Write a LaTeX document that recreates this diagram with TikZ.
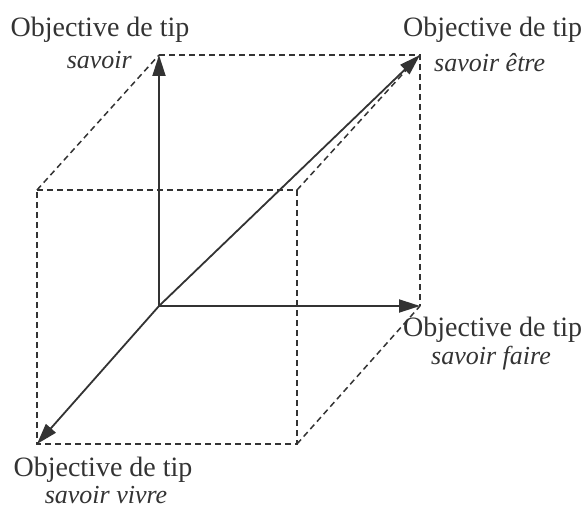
\documentclass[tikz,border=0pt]{standalone}
\usepackage{fontspec}
\setmainfont{Liberation Serif}
\usetikzlibrary{arrows.meta}
\definecolor{ink}{HTML}{333333}
\tikzset{
  axis/.style={draw=ink, line width=1.8pt, -{Triangle[length=21pt,width=13pt]}},
  edge/.style={draw=ink, line width=1.5pt, dash pattern=on 6pt off 4pt},
  lab/.style={text=ink, inner sep=0pt, font=\fontsize{28}{32}\selectfont},
  ilab/.style={text=ink, inner sep=0pt, font=\fontsize{26}{30}\selectfont\itshape}
}
\begin{document}
\begin{tikzpicture}[x=1pt,y=-1pt]
\useasboundingbox (0,0) rectangle (585,510);
% back face
\coordinate (O) at (159,306);
\coordinate (U) at (159,55);
\coordinate (R) at (420,306);
\coordinate (D) at (420,55);
% front face
\coordinate (F1) at (37,190);
\coordinate (F2) at (297,190);
\coordinate (F3) at (297,444);
\coordinate (F4) at (37,444);
% dashed edges
\draw[edge] (U) -- (D) -- (R);
\draw[edge] (F1) -- (F2) -- (F3) -- (F4) -- cycle;
\draw[edge] (F1) -- (U);
\draw[edge] (F2) -- (D);
\draw[edge] (F3) -- (R);
% arrows
\draw[axis] (O) -- (U);
\draw[axis] (O) -- (R);
\draw[axis] (O) -- (D);
\draw[axis] (O) -- (F4);
% labels
\node[lab, anchor=base] (t1) at (100,37) {Objective de tip};
\node[ilab, anchor=base east] (t2) at (132,69) {savoir};
\node[lab, anchor=base west] (r1) at (403,37) {Objective de tip};
\node[ilab, anchor=base west] (r2) at (434,72) {savoir être};
\node[lab, anchor=base west] (s1) at (403,336) {Objective de tip};
\node[ilab, anchor=base] (s2) at (491,364) {savoir faire};
\node[lab, anchor=base] (b1) at (103,476) {Objective de tip};
\node[ilab, anchor=base] (b2) at (106,503) {savoir vivre};
\end{tikzpicture}
\end{document}
